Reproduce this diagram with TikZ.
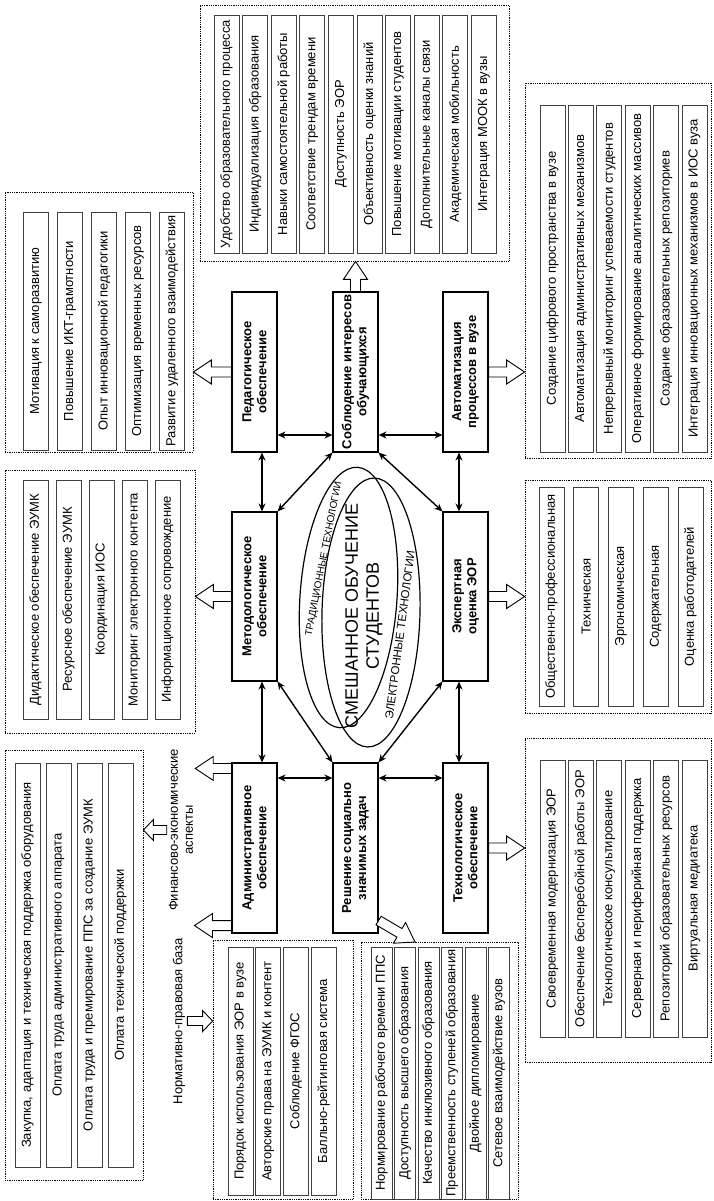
\documentclass[tikz,border=0pt]{standalone}
\usepackage{fontspec}
\setmainfont{Liberation Sans}
\usetikzlibrary{calc,fit,arrows.meta}

\tikzset{
  box/.style={draw, line width=1.1pt, rotate=90, minimum height=45pt, inner sep=2pt, align=center, font=\fontsize{13}{15}\selectfont\bfseries},
  item/.style={draw=black!75, line width=0.9pt, rotate=90, minimum height=25pt, inner sep=1pt, font=\fontsize{13}{15}\selectfont},
  group/.style={draw, densely dotted, line width=0.8pt, inner sep=0pt},
  link/.style={{Stealth[length=8pt,width=7pt]}-{Stealth[length=8pt,width=7pt]}, line width=1.4pt},
  hollow/.style={draw, fill=white, line width=0.9pt, line join=miter},
  caption/.style={rotate=90, align=center, inner sep=2pt, font=\fontsize{13}{15}\selectfont},
}

% hollow block arrow: shaft half width, head half width, head length, from, to
\newcommand\blockarr[5]{%
  \path[hollow] let \p1=#4, \p2=#5, \p3=($#5!#3pt!#4$) in
    ($(\p1)!#1pt!90:(\p2)$) -- ($(\p3)!#1pt!90:(\p2)$) -- ($(\p3)!#2pt!90:(\p2)$) -- (\p2)
    -- ($(\p3)!#2pt!-90:(\p2)$) -- ($(\p3)!#1pt!-90:(\p2)$) -- ($(\p1)!#1pt!-90:(\p2)$) -- cycle;
}
\newcommand\bigarr[2]{\blockarr{5}{12}{18}{#1}{#2}}
\newcommand\smallarr[2]{\blockarr{4.5}{10.5}{10}{#1}{#2}}

\begin{document}
\begin{tikzpicture}[x=1pt, y=-1pt]
	\useasboundingbox (0,0) rectangle (713,1201);
	
	% central blocks
	\node[box, minimum width=160pt] (ped) at (254.5,372) {Педагогическое\\обеспечение};
	\node[box, minimum width=160pt] (sob) at (355.5,372) {Соблюдение интересов\\обучающихся};
	\node[box, minimum width=160pt] (avt) at (465.5,372) {Автоматизация\\процессов в вузе};
	\node[box, minimum width=169pt] (met) at (254.5,596.5) {Методологическое\\обеспечение};
	\node[box, minimum width=169pt] (exp) at (465.5,596.5) {Экспертная\\оценка ЭОР};
	\node[box, minimum width=170pt] (adm) at (254.5,848) {Административное\\обеспечение};
	\node[box, minimum width=170pt] (resh) at (355.5,848) {Решение социально\\значимых задач};
	\node[box, minimum width=170pt] (tech) at (465.5,848) {Технологическое\\обеспечение};
	
	% blended learning
	\draw[line width=1.2pt, rotate around={-4:(348.5,597.5)}] (348.5,597.5) ellipse [x radius=48.5, y radius=130.5];
	\draw[line width=1.2pt, rotate around={-1.5:(371,612.5)}] (371,612.5) ellipse [x radius=49, y radius=134.5];
	\node[rotate=90, align=center, inner sep=1pt, font=\fontsize{18}{21}\selectfont] (mix) at (364,616) {СМЕШАННОЕ ОБУЧЕНИЕ\\СТУДЕНТОВ};
	\node[rotate=79, inner sep=1pt, font=\fontsize{10}{12}\selectfont] (tradlbl) at (324,559) {ТРАДИЦИОННЫЕ ТЕХНОЛОГИИ};
	\node[rotate=82.5, inner sep=1pt, font=\fontsize{11.5}{13}\selectfont] (eleclbl) at (400,635) {ЭЛЕКТРОННЫЕ ТЕХНОЛОГИИ};
	
	\coordinate (r1) at (0,435);
	\coordinate (r3) at (0,778);
	\coordinate (cL) at (262,0);
	\coordinate (cR) at (459,0);
	\draw[link] (ped.south |- r1) -- (sob.north |- r1);
	\draw[link] (sob.south |- r1) -- (avt.north |- r1);
	\draw[link] (ped.west -| cL) -- (met.east -| cL);
	\draw[link] (met.west -| cL) -- (adm.east -| cL);
	\draw[link] (avt.west -| cR) -- (exp.east -| cR);
	\draw[link] (exp.west -| cR) -- (tech.east -| cR);
	\draw[link] (adm.south |- r3) -- (resh.north |- r3);
	\draw[link] (resh.south |- r3) -- (tech.north |- r3);
	\draw[link] (sob.north west) -- (met.south east);
	\draw[link] (sob.south west) -- (exp.north east);
	\draw[link] (met.south west) -- (resh.north east);
	\draw[link] (exp.north west) -- (resh.south east);
	
	% groups
	\node[group, fit={(5,192) (193,452)}] (gped) {};
	\node[group, fit={(200,5) (509,261)}] (gsob) {};
	\node[group, fit={(525,83) (711,458)}] (gavt) {};
	\node[group, fit={(5,470) (195,733)}] (gmet) {};
	\node[group, fit={(525,480) (711,713)}] (gexp) {};
	\node[group, fit={(5,750) (143,1180)}] (gfin) {};
	\node[group, fit={(213,940) (353,1199)}] (gnorm) {};
	\node[group, fit={(361,942) (518,1199)}] (gresh) {};
	\node[group, fit={(525,738) (711,1062)}] (gtech) {};
	
	\foreach \t [count=\i] in {Мотивация к саморазвитию, Повышение ИКТ-грамотности, Опыт инновационной педагогики, Оптимизация временных ресурсов, Развитие удаленного взаимодействия}
		\node[item, minimum width=238pt] (ped\i) at ({36+34*(\i-1)},331) {\t};
	\foreach \t [count=\i] in {Удобство образовательного процесса, Индивидуализация образования, Навыки самостоятельной работы, Соответствие трендам времени, Доступность ЭОР, Объективность оценки знаний, Повышение мотивации студентов, Дополнительные каналы связи, Академическая мобильность, Интеграция МООК в вузы}
		\node[item, minimum width=238pt] (sob\i) at ({226.5+28.6*(\i-1)},134) {\t};
	\foreach \t [count=\i] in {Создание цифрового пространства в вузе, Автоматизация административных механизмов, Непрерывный мониторинг успеваемости студентов, Оперативное формирование аналитических массивов, Создание образовательных репозиториев, Интеграция инновационных механизмов в ИОС вуза}
		\node[item, minimum width=347pt] (avt\i) at ({552.5+28.4*(\i-1)},278.5) {\t};
	\foreach \t [count=\i] in {Дидактическое обеспечение ЭУМК, Ресурсное обеспечение ЭУМК, Координация ИОС, Мониторинг электронного контента, Информационное сопровождение}
		\node[item, minimum width=239pt] (met\i) at ({35.5+33*(\i-1)},599.5) {\t};
	\foreach \t [count=\i] in {Общественно-профессиональная, Техническая, Эргономическая, Содержательная, Оценка работодателей}
		\node[item, minimum width=219pt] (exp\i) at ({551.5+34.75*(\i-1)},596.5) {\t};
	\foreach \t [count=\i] in {{Закупка, адаптация и техническая поддержка оборудования}, Оплата труда административного аппарата, Оплата труда и премирование ППС за создание ЭУМК, Оплата технической поддержки}
		\node[item, minimum width=404pt] (fin\i) at ({27.5+31*(\i-1)},965) {\t};
	\foreach \t [count=\i] in {Порядок использования ЭОР в вузе, Авторские права на ЭУМК и контент, Соблюдение ФГОС, Балльно-рейтинговая система}
		\node[item, minimum width=248pt] (norm\i) at ({240.5+27.7*(\i-1)},1071) {\t};
	\foreach \t [count=\i] in {Нормирование рабочего времени ППС, Доступность высшего образования, Качество инклюзивного образования, Преемственность ступеней образования, Двойное дипломирование, Сетевое взаимодействие вузов}
		\node[item, minimum width=252pt, minimum height=21pt] (resh\i) at ({381.5+23.5*(\i-1)},1073) {\t};
	\foreach \t [count=\i] in {Своевременная модернизация ЭОР, Обеспечение бесперебойной работы ЭОР, Технологическое консультирование, Серверная и периферийная поддержка, Репозиторий образовательных ресурсов, Виртуальная медиатека}
		\node[item, minimum width=277pt] (tech\i) at ({552.5+28.4*(\i-1)},898.5) {\t};
	
	\node[caption] (fin) at (181,830) {Финансово-экономические\\аспекты};
	\node[caption] (norm) at (179,1021) {Нормативно-правовая база};
	
	% block arrows
	\coordinate (admup) at ($(adm.north east)+(0,6)$);
	\coordinate (admdn) at ($(adm.north west)+(0,-8)$);
	\coordinate (admdntip) at ($(admdn)+(-37,0)$);
	\coordinate (reshfoot) at ($(resh.south west)+(0,-13)$);
	\coordinate (reshtip) at (415,942);
	\bigarr{(ped.north)}{(ped.north -| gped.east)}
	\bigarr{(met.north)}{(met.north -| gmet.east)}
	\bigarr{(sob.east)}{(sob.east |- gsob.south)}
	\bigarr{(avt.south)}{(avt.south -| gavt.west)}
	\bigarr{(exp.south)}{(exp.south -| gexp.west)}
	\bigarr{(tech.south)}{(tech.south -| gtech.west)}
	\bigarr{(admup)}{(admup -| fin.south)}
	\bigarr{(admdn)}{(admdntip)}
	\bigarr{(reshfoot)}{(reshtip)}
	\smallarr{(fin.north)}{(fin.north -| gfin.east)}
	\smallarr{(norm.south)}{(norm.south -| gnorm.west)}
\end{tikzpicture}
\end{document}
